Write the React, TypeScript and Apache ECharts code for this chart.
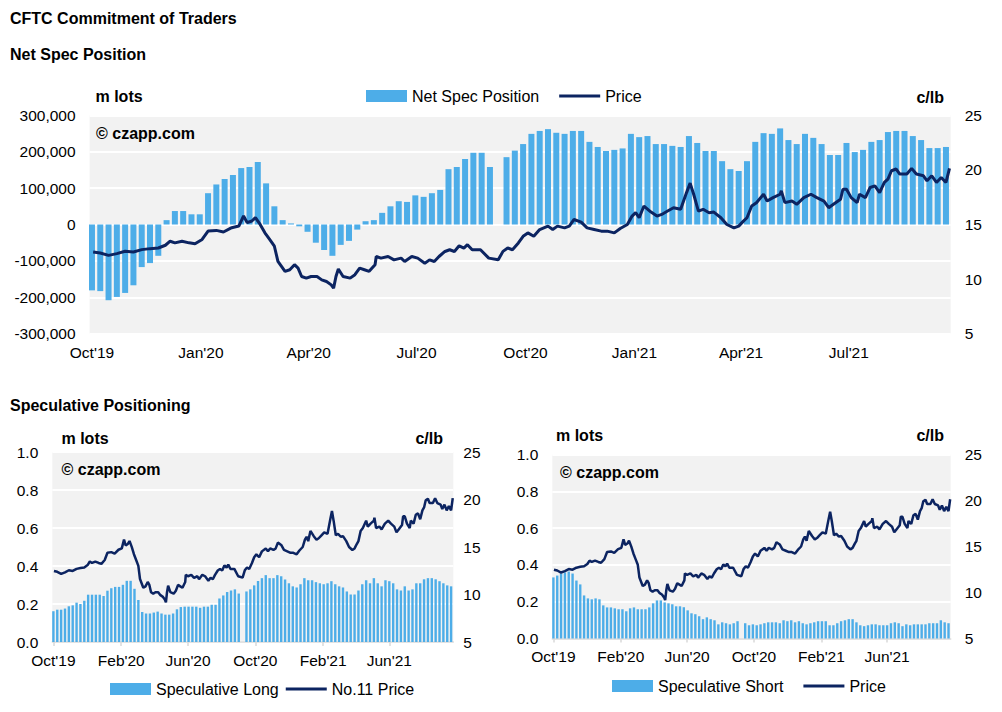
import React, { useEffect, useRef } from 'react';
import * as echarts from 'echarts';

const FONT = "'Liberation Sans', Arial, Helvetica, sans-serif";
const BAR = '#4dade8';
const LINE = '#0c2461';
const GREY = '#f2f2f2';
const LINE_ICON = 'path://M0,0L41,0L41,0.01L0,0.01Z M0,4.5L41,4.5L41,7.5L0,7.5Z M0,11.99L41,11.99L41,12L0,12Z';

// ---------- data ----------
const firstWeek = '2019-10-01'; // weekly COT report dates (104 weeks)
const weekCount = 104;

const axisMin = '2019-09-29';
const axisMax = '2021-09-25';

const topTickDates = ['2019-10-01', '2020-01-01', '2020-04-01', '2020-07-01', '2020-10-01', '2021-01-01', '2021-04-01', '2021-07-01'];
const topTickLabels = ["Oct'19", "Jan'20", "Apr'20", "Jul'20", "Oct'20", "Jan'21", "Apr'21", "Jul'21"];
const bottomTickDates = ['2019-10-01', '2020-02-01', '2020-06-01', '2020-10-01', '2021-02-01', '2021-06-01'];
const bottomTickLabels = ["Oct'19", "Feb'20", "Jun'20", "Oct'20", "Feb'21", "Jun'21"];

// Net speculative position (lots)
const netSpec: (number | null)[] = [
  -181000, -183000, -208000, -199000, -188000, -167000, -117000, -106000, -86000, 12000,
  37000, 37000, 28000, 28000, 86000, 110000, 125000, 136000, 155000, 158000,
  172000, 113000, 50000, 12000, 3000, -5000, -20000, -50000, -70000, -86000,
  -56000, -45000, -14000, 9000, 12000, 32000, 50000, 64000, 62000, 80000,
  76000, 86000, 95000, 152000, 158000, 180000, 197000, 197000, 158000, null,
  185000, 203000, 221000, 249000, 257000, 262000, 252000, 249000, 257000, 257000,
  227000, 213000, 202000, 205000, 209000, 249000, 240000, 243000, 221000, 221000,
  216000, 213000, 243000, 224000, 202000, 202000, 174000, 152000, 147000, 174000,
  227000, 251000, 249000, 264000, 232000, 221000, 249000, 238000, 221000, 191000,
  191000, 224000, 199000, 205000, 227000, 232000, 254000, 257000, 257000, 243000,
  232000, 210000, 210000, 213000,
];

// Speculative long (m lots)
const specLong: (number | null)[] = [
  0.162, 0.170, 0.170, 0.176, 0.188, 0.193, 0.207, 0.200, 0.217, 0.249,
  0.249, 0.249, 0.249, 0.242, 0.270, 0.283, 0.290, 0.290, 0.301, 0.322,
  0.322, 0.280, 0.221, 0.158, 0.150, 0.150, 0.155, 0.160, 0.150, 0.144,
  0.144, 0.150, 0.172, 0.184, 0.186, 0.186, 0.186, 0.186, 0.180, 0.186,
  0.186, 0.196, 0.196, 0.229, 0.245, 0.263, 0.271, 0.277, 0.255, null,
  0.266, 0.277, 0.298, 0.321, 0.336, 0.352, 0.336, 0.336, 0.352, 0.346,
  0.329, 0.309, 0.293, 0.287, 0.304, 0.336, 0.325, 0.325, 0.315, 0.309,
  0.304, 0.309, 0.320, 0.304, 0.293, 0.287, 0.266, 0.250, 0.250, 0.271,
  0.304, 0.325, 0.309, 0.336, 0.309, 0.293, 0.325, 0.320, 0.309, 0.277,
  0.271, 0.293, 0.271, 0.277, 0.309, 0.309, 0.330, 0.336, 0.336, 0.330,
  0.320, 0.309, 0.298, 0.293,
];

// Speculative short (m lots)
const specShort: (number | null)[] = [
  0.332, 0.342, 0.353, 0.359, 0.364, 0.353, 0.315, 0.294, 0.234, 0.218,
  0.213, 0.218, 0.213, 0.180, 0.169, 0.169, 0.164, 0.159, 0.159, 0.148,
  0.164, 0.169, 0.159, 0.159, 0.159, 0.169, 0.191, 0.207, 0.207, 0.196,
  0.191, 0.186, 0.175, 0.175, 0.170, 0.153, 0.137, 0.132, 0.121, 0.105,
  0.115, 0.105, 0.099, 0.077, 0.088, 0.083, 0.077, 0.083, 0.094, null,
  0.083, 0.072, 0.077, 0.072, 0.077, 0.083, 0.088, 0.088, 0.088, 0.083,
  0.099, 0.094, 0.099, 0.088, 0.094, 0.083, 0.077, 0.083, 0.088, 0.094,
  0.094, 0.094, 0.072, 0.072, 0.083, 0.094, 0.099, 0.105, 0.105, 0.088,
  0.072, 0.067, 0.072, 0.077, 0.077, 0.072, 0.072, 0.072, 0.083, 0.088,
  0.083, 0.067, 0.077, 0.072, 0.077, 0.077, 0.077, 0.077, 0.083, 0.083,
  0.083, 0.099, 0.088, 0.083,
];

// No.11 raw sugar price (c/lb)
const priceDates: string[] = [
  '2019-10-02', '2019-10-08', '2019-10-15', '2019-10-22', '2019-10-29', '2019-11-05', '2019-11-12', '2019-11-19', '2019-11-26', '2019-12-02',
  '2019-12-06', '2019-12-10', '2019-12-16', '2019-12-22', '2019-12-27', '2020-01-02', '2020-01-07', '2020-01-14', '2020-01-20', '2020-01-27',
  '2020-02-02', '2020-02-06', '2020-02-09', '2020-02-13', '2020-02-16', '2020-02-20', '2020-02-24', '2020-02-28', '2020-03-03', '2020-03-06',
  '2020-03-12', '2020-03-16', '2020-03-20', '2020-03-23', '2020-03-26', '2020-03-30', '2020-04-03', '2020-04-08', '2020-04-12', '2020-04-16',
  '2020-04-20', '2020-04-22', '2020-04-24', '2020-04-26', '2020-04-30', '2020-05-06', '2020-05-10', '2020-05-14', '2020-05-18', '2020-05-22',
  '2020-05-27', '2020-05-28', '2020-06-01', '2020-06-07', '2020-06-12', '2020-06-18', '2020-06-21', '2020-06-27', '2020-07-02', '2020-07-08',
  '2020-07-12', '2020-07-16', '2020-07-20', '2020-07-25', '2020-07-29', '2020-08-02', '2020-08-06', '2020-08-10', '2020-08-13', '2020-08-17',
  '2020-08-24', '2020-08-31', '2020-09-08', '2020-09-12', '2020-09-16', '2020-09-20', '2020-09-25', '2020-09-29', '2020-10-03', '2020-10-08',
  '2020-10-13', '2020-10-20', '2020-10-24', '2020-10-28', '2020-11-03', '2020-11-07', '2020-11-11', '2020-11-17', '2020-11-22', '2020-11-28',
  '2020-12-04', '2020-12-09', '2020-12-15', '2020-12-20', '2020-12-26', '2020-12-30', '2021-01-02', '2021-01-05', '2021-01-09', '2021-01-15',
  '2021-01-20', '2021-01-24', '2021-01-29', '2021-02-03', '2021-02-09', '2021-02-14', '2021-02-17', '2021-02-20', '2021-02-24', '2021-02-28',
  '2021-03-05', '2021-03-09', '2021-03-15', '2021-03-20', '2021-03-26', '2021-03-30', '2021-04-03', '2021-04-06', '2021-04-10', '2021-04-14',
  '2021-04-20', '2021-04-23', '2021-04-28', '2021-05-04', '2021-05-05', '2021-05-08', '2021-05-14', '2021-05-18', '2021-05-24', '2021-05-30',
  '2021-06-04', '2021-06-10', '2021-06-14', '2021-06-18', '2021-06-24', '2021-06-26', '2021-06-29', '2021-07-03', '2021-07-08', '2021-07-10',
  '2021-07-15', '2021-07-19', '2021-07-23', '2021-07-27', '2021-07-31', '2021-08-03', '2021-08-06', '2021-08-10', '2021-08-13', '2021-08-19',
  '2021-08-23', '2021-08-27', '2021-09-02', '2021-09-05', '2021-09-09', '2021-09-13', '2021-09-17', '2021-09-21', '2021-09-24',
];
const priceValues: number[] = [
  12.48, 12.39, 12.17, 12.33, 12.55, 12.48, 12.70, 12.79, 12.85, 13.10,
  13.47, 13.32, 13.47, 13.32, 13.23, 13.63, 14.40, 14.46, 14.31, 14.71,
  14.86, 15.78, 15.17, 15.32, 15.63, 15.01, 14.24, 13.63, 13.01, 11.63,
  10.71, 10.86, 11.32, 11.01, 10.24, 10.09, 10.24, 10.24, 9.93, 9.78,
  9.47, 9.17, 10.24, 10.92, 10.24, 10.09, 10.40, 11.01, 10.86, 10.71,
  11.32, 12.07, 11.92, 12.07, 11.76, 11.92, 11.61, 12.07, 11.92, 11.46,
  11.76, 11.61, 12.07, 12.53, 12.69, 12.53, 13.05, 12.84, 13.15, 12.69,
  12.69, 11.92, 11.77, 12.54, 12.85, 12.69, 13.31, 13.92, 14.23, 13.92,
  14.54, 14.85, 14.54, 14.85, 14.69, 14.85, 15.46, 15.22, 14.69, 14.54,
  14.39, 14.39, 14.23, 14.63, 15.00, 15.77, 16.08, 15.62, 16.69, 16.14,
  15.77, 15.92, 16.23, 16.54, 16.39, 17.92, 18.79, 17.77, 16.23, 16.39,
  16.08, 16.14, 15.62, 15.00, 14.69, 14.85, 15.31, 15.62, 16.69, 17.00,
  17.77, 17.15, 17.46, 17.77, 18.08, 17.00, 17.15, 16.85, 17.46, 17.77,
  17.46, 17.15, 16.54, 16.85, 17.31, 18.23, 18.23, 17.46, 17.00, 17.77,
  17.46, 18.39, 18.54, 17.92, 18.85, 19.16, 19.92, 20.08, 19.62, 19.62,
  20.14, 19.62, 19.46, 19.00, 19.46, 18.85, 19.31, 18.85, 20.14,
];

// ---------- helpers ----------
const ts = (s: string) => {
  const [y, m, d] = s.split('-').map(Number);
  return new Date(y, m - 1, d).getTime();
};
const fmtDate = (t: Date) =>
  `${t.getFullYear()}-${String(t.getMonth() + 1).padStart(2, '0')}-${String(t.getDate()).padStart(2, '0')}`;
const weekDates: string[] = (() => {
  const [y, m, d] = firstWeek.split('-').map(Number);
  const out: string[] = [];
  for (let i = 0; i < weekCount; i++) out.push(fmtDate(new Date(y, m - 1, d + 7 * i)));
  return out;
})();

const pair = (dates: string[], vals: (number | null)[]) =>
  dates.map((d, i) => [ts(d), vals[i] == null ? '-' : vals[i]]);

const tickFormatter = (dates: string[], labels: string[]) => (v: number) => {
  const idx = dates.findIndex((d) => Math.abs(ts(d) - v) < 43200000);
  return idx >= 0 ? labels[idx] : '';
};

const labelStyle = { fontSize: 15.5, color: '#000', fontFamily: FONT };

const xAxis = (gridIndex: number, dates: string[], labels: string[], showLine: boolean, margin: number) => ({
  type: 'value',
  gridIndex,
  min: ts(axisMin),
  max: ts(axisMax),
  axisLine: { show: showLine, onZero: false, lineStyle: { color: '#d9d9d9', width: 1.5 } },
  axisTick: {
    show: showLine,
    customValues: dates.map(ts),
    length: 4,
    lineStyle: { color: '#d9d9d9', width: 1.5 },
  },
  axisLabel: {
    ...labelStyle,
    customValues: dates.map(ts),
    formatter: tickFormatter(dates, labels),
    margin,
    hideOverlap: false,
    showMinLabel: true,
    showMaxLabel: true,
  },
  splitLine: { show: false },
});

const leftAxis = (gridIndex: number, min: number, max: number, interval: number, fmt: (v: number) => string) => ({
  type: 'value',
  gridIndex,
  position: 'left',
  min,
  max,
  interval,
  axisLine: { show: false },
  axisTick: { show: false },
  axisLabel: { ...labelStyle, margin: 14, formatter: fmt },
  splitLine: { show: true, lineStyle: { color: '#ffffff', width: 2 } },
});

const rightAxis = (gridIndex: number, margin: number) => ({
  type: 'value',
  gridIndex,
  position: 'right',
  min: 5,
  max: 25,
  interval: 5,
  axisLine: { show: false },
  axisTick: { show: false },
  axisLabel: { ...labelStyle, margin },
  splitLine: { show: false },
});

const txt = (x: number, y: number, text: string, bold: boolean, align: string = 'left') => ({
  type: 'text',
  x,
  y,
  style: {
    text,
    fill: '#000',
    font: `${bold ? 'bold ' : ''}16px ${FONT}`,
    textAlign: align,
    textVerticalAlign: 'middle',
  },
});

const legendBase = {
  padding: 0,
  itemWidth: 41,
  itemHeight: 12,
  selectedMode: false,
  symbolKeepAspect: false,
  itemStyle: { borderWidth: 0 },
  textStyle: { fontSize: 16, color: '#000', fontFamily: FONT, lineHeight: 16 },
};

export default function App() {
  const ref = useRef<HTMLDivElement>(null);

  useEffect(() => {
    if (!ref.current) return;
    const chart = echarts.init(ref.current, null, { renderer: 'svg' });
    const priceData = pair(priceDates, priceValues);

    chart.setOption({
      animation: false,
      backgroundColor: '#ffffff',
      textStyle: { fontFamily: FONT },
      grid: [
        { left: 89.6, top: 115.3, width: 861.1, height: 218.4, show: true, backgroundColor: GREY, borderWidth: 0, containLabel: false, outerBoundsMode: 'none' },
        { left: 52.3, top: 452, width: 401, height: 190, show: true, backgroundColor: GREY, borderWidth: 0, containLabel: false, outerBoundsMode: 'none' },
        { left: 552.3, top: 454.5, width: 398.4, height: 184, show: true, backgroundColor: GREY, borderWidth: 0, containLabel: false, outerBoundsMode: 'none' },
      ],
      xAxis: [
        xAxis(0, topTickDates, topTickLabels, false, 11),
        xAxis(1, bottomTickDates, bottomTickLabels, true, 10),
        xAxis(2, bottomTickDates, bottomTickLabels, true, 10),
      ],
      yAxis: [
        leftAxis(0, -300000, 300000, 100000, (v) => v.toLocaleString('en-US')),
        rightAxis(0, 14),
        leftAxis(1, 0, 1, 0.2, (v) => v.toFixed(1)),
        rightAxis(1, 10),
        leftAxis(2, 0, 1, 0.2, (v) => v.toFixed(1)),
        rightAxis(2, 14),
      ],
      legend: [
        {
          ...legendBase,
          left: 366,
          top: 88,
          itemGap: 20,
          data: [{ name: 'Net Spec Position', icon: 'rect' }, { name: 'Price', icon: LINE_ICON }],
        },
        {
          ...legendBase,
          left: 110,
          top: 681,
          itemGap: 7,
          data: [{ name: 'Speculative Long', icon: 'rect' }, { name: 'No.11 Price', icon: LINE_ICON }],
        },
        {
          ...legendBase,
          left: 612,
          top: 678,
          itemGap: 20,
          data: [{ name: 'Speculative Short', icon: 'rect' }, { name: 'Price', icon: LINE_ICON }],
        },
      ],
      graphic: [
        txt(10, 18, 'CFTC Commitment of Traders', true),
        txt(10, 54, 'Net Spec Position', true),
        txt(10, 405, 'Speculative Positioning', true),
        txt(95.5, 96.5, 'm lots', true),
        txt(944, 97, 'c/lb', true, 'right'),
        txt(96, 133, '© czapp.com', true),
        txt(61.5, 438, 'm lots', true),
        txt(443, 438, 'c/lb', true, 'right'),
        txt(61.5, 469, '© czapp.com', true),
        txt(556, 435, 'm lots', true),
        txt(944, 435, 'c/lb', true, 'right'),
        txt(560, 472.5, '© czapp.com', true),
      ],
      series: [
        {
          name: 'Net Spec Position',
          type: 'bar',
          xAxisIndex: 0,
          yAxisIndex: 0,
          barWidth: 6,
          itemStyle: { color: BAR },
          data: pair(weekDates, netSpec),
        },
        {
          name: 'Price',
          type: 'line',
          xAxisIndex: 0,
          yAxisIndex: 1,
          symbol: 'none',
          showSymbol: false,
          lineStyle: { color: LINE, width: 3 },
          itemStyle: { color: LINE },
          data: priceData,
        },
        {
          name: 'Speculative Long',
          type: 'bar',
          xAxisIndex: 1,
          yAxisIndex: 2,
          barWidth: 2.4,
          itemStyle: { color: BAR },
          data: pair(weekDates, specLong),
        },
        {
          name: 'No.11 Price',
          type: 'line',
          xAxisIndex: 1,
          yAxisIndex: 3,
          symbol: 'none',
          showSymbol: false,
          lineStyle: { color: LINE, width: 2.5 },
          itemStyle: { color: LINE },
          data: priceData,
        },
        {
          name: 'Speculative Short',
          type: 'bar',
          xAxisIndex: 2,
          yAxisIndex: 4,
          barWidth: 2.4,
          itemStyle: { color: BAR },
          data: pair(weekDates, specShort),
        },
        {
          name: 'Price',
          type: 'line',
          xAxisIndex: 2,
          yAxisIndex: 5,
          symbol: 'none',
          showSymbol: false,
          lineStyle: { color: LINE, width: 2.5 },
          itemStyle: { color: LINE },
          data: priceData,
        },
      ],
    });

    return () => chart.dispose();
  }, []);

  return (
    <div
      ref={ref}
      style={{ position: 'fixed', left: 0, top: 0, width: 1002, height: 712, background: '#fff' }}
    />
  );
}
